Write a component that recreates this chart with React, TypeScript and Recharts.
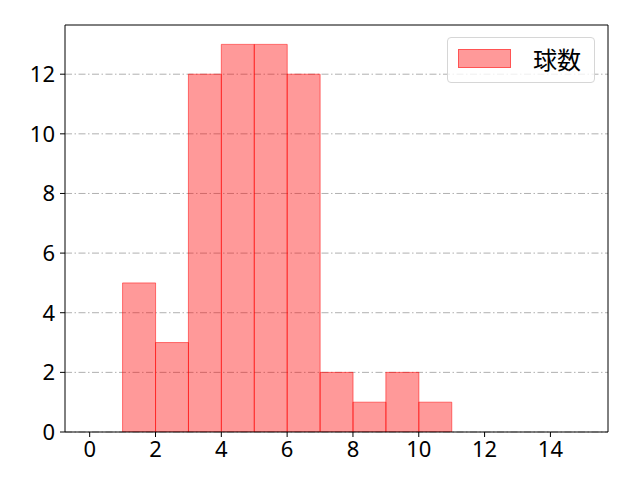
import React from 'react';
import { BarChart, Bar, XAxis, YAxis, CartesianGrid, ReferenceLine } from 'recharts';

// histogram bins (left edge) and counts
const binStarts = [0, 1, 2, 3, 4, 5, 6, 7, 8, 9, 10, 11, 12, 13, 14];
const counts = [0, 5, 3, 12, 13, 13, 12, 2, 1, 2, 1, 0, 0, 0, 0];
const xTicks = [0, 2, 4, 6, 8, 10, 12, 14];
const yTicks = [0, 2, 4, 6, 8, 10, 12];
const seriesName = '球数';

const X_DOMAIN: [number, number] = [-0.75, 15.75];
const Y_DOMAIN: [number, number] = [0, 13.65];

const data = binStarts.map((b, i) => ({ x: b + 0.5, count: counts[i] }));

const FONT = '"Noto Sans", "DejaVu Sans", sans-serif';
const CJK = '"Noto Sans CJK JP", sans-serif';

const LegendBox: React.FC = () => (
  <div
    style={{
      position: 'absolute',
      left: 447,
      top: 37,
      width: 146,
      height: 44,
      border: '1px solid #d6d6d6',
      borderRadius: 4,
      background: 'rgba(255,255,255,0.8)',
      fontFamily: CJK,
    }}
  >
    <div
      style={{
        position: 'absolute',
        left: 10,
        top: 11,
        width: 53,
        height: 19,
        background: 'rgba(255,0,0,0.4)',
        border: '1px solid rgba(255,0,0,0.45)',
        boxSizing: 'border-box',
      }}
    />
    <span style={{ position: 'absolute', left: 85, top: 0, fontSize: 24, color: '#000', lineHeight: '42px' }}>
      {seriesName}
    </span>
  </div>
);

const App: React.FC = () => {
  return (
    <div style={{ position: 'absolute', left: 0, top: 0, width: 640, height: 480, background: '#fff' }}>
      <BarChart
        width={640}
        height={480}
        data={data}
        margin={{ top: 25, right: 32, left: 0, bottom: 0 }}
        barCategoryGap={0}
        barGap={0}
      >
        <CartesianGrid
          vertical={false}
          horizontalValues={yTicks}
          stroke="#b0b0b0"
          strokeDasharray="7 2.5 1.5 2.5"
        />
        <XAxis
          dataKey="x"
          type="number"
          domain={X_DOMAIN}
          ticks={xTicks}
          allowDataOverflow
          height={48}
          stroke="#000"
          tickSize={5}
          tickMargin={4}
          tick={{ fontSize: 22, fill: '#000', fontFamily: FONT }}
        />
        <YAxis
          type="number"
          domain={Y_DOMAIN}
          ticks={yTicks}
          allowDataOverflow
          width={65}
          stroke="#000"
          tickSize={5}
          tickMargin={5}
          tick={{ fontSize: 22, fill: '#000', fontFamily: FONT }}
        />
        <Bar
          dataKey="count"
          name={seriesName}
          fill="#ff0000"
          fillOpacity={0.4}
          stroke="#ff0000"
          strokeOpacity={0.5}
          strokeWidth={1}
          isAnimationActive={false}
        />
        <ReferenceLine x={X_DOMAIN[1]} stroke="#000" strokeWidth={1} ifOverflow="extendDomain" />
        <ReferenceLine y={Y_DOMAIN[1]} stroke="#000" strokeWidth={1} ifOverflow="extendDomain" />
      </BarChart>
      <LegendBox />
    </div>
  );
};

export default App;
